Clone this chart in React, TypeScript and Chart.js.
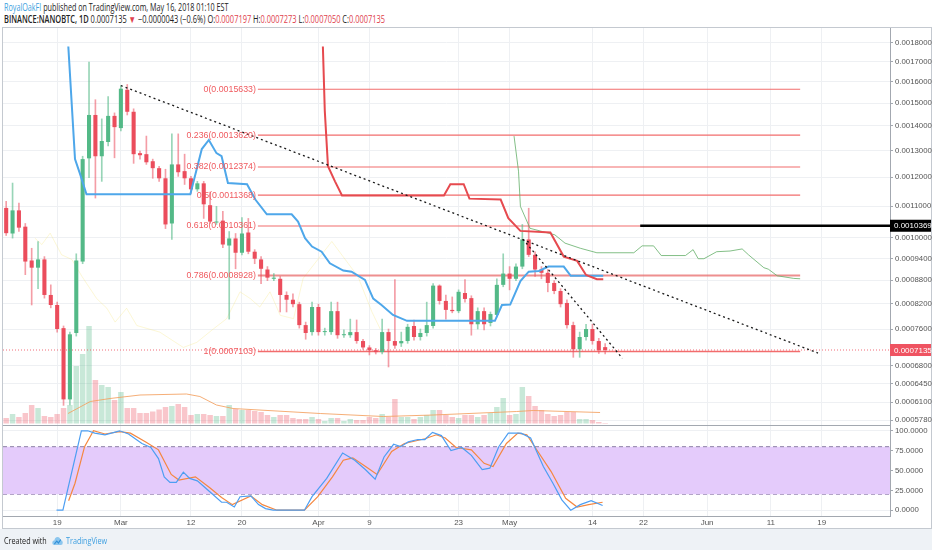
import { useEffect, useRef } from 'react'
import { Chart, registerables } from 'chart.js'

Chart.register(...registerables)
Chart.defaults.font.family = '"Liberation Sans", Arial, sans-serif'

// one candle per day, day 0 = 11 Feb 2018, last candle = 16 May 2018 (day 94)
const opens = [
  0.001094, 0.001013, 0.001086, 0.001034, 0.000934, 0.000914, 0.000937, 0.000842, 0.000817, 0.000762,
  0.000615, 0.000751, 0.000931, 0.001270, 0.001447, 0.001278, 0.001334, 0.001443, 0.001391, 0.001561,
  0.001461, 0.001290, 0.001286, 0.001259, 0.001233, 0.001196, 0.001044, 0.001247, 0.001222, 0.001196,
  0.001157, 0.001178, 0.001103, 0.001047, 0.001053, 0.000977, 0.000998, 0.000956, 0.001016, 0.000959,
  0.000937, 0.000909, 0.000884, 0.000884, 0.000842, 0.000830, 0.000819, 0.000769, 0.000753, 0.000812,
  0.000753, 0.000753, 0.000802, 0.000746, 0.000746, 0.000753, 0.000733, 0.000719, 0.000713, 0.000709,
  0.000753, 0.000733, 0.000728, 0.000733, 0.000767, 0.000742, 0.000751, 0.000767, 0.000866, 0.000827,
  0.000805, 0.000802, 0.000847, 0.000834, 0.000771, 0.000802, 0.000774, 0.000793, 0.000868, 0.000898,
  0.000884, 0.000917, 0.000995, 0.000950, 0.000909, 0.000900, 0.000873, 0.000852, 0.000822, 0.000769,
  0.000715, 0.000742, 0.000760, 0.000733, 0.0007197,
]
const highs = [
  0.001116, 0.001179, 0.001110, 0.001044, 0.000969, 0.000989, 0.000945, 0.000868, 0.000824, 0.000767,
  0.000753, 0.000953, 0.001278, 0.001696, 0.001515, 0.001430, 0.001529, 0.001456, 0.001581, 0.001586,
  0.001474, 0.001298, 0.001358, 0.001267, 0.001240, 0.001229, 0.001367, 0.001367, 0.001286, 0.001203,
  0.001185, 0.001185, 0.001147, 0.001099, 0.001083, 0.001019, 0.001013, 0.001063, 0.001060, 0.000965,
  0.000945, 0.000917, 0.000898, 0.000890, 0.000850, 0.000845, 0.000824, 0.000776, 0.000824, 0.000819,
  0.000762, 0.000824, 0.000824, 0.000758, 0.000783, 0.000781, 0.000737, 0.000723, 0.000717, 0.000783,
  0.000760, 0.000882, 0.000753, 0.000771, 0.000781, 0.000760, 0.000824, 0.000871, 0.000868, 0.000842,
  0.000837, 0.000855, 0.000882, 0.000840, 0.000810, 0.000810, 0.000800, 0.000884, 0.000953, 0.000917,
  0.000925, 0.001041, 0.001093, 0.000959, 0.000917, 0.000909, 0.000879, 0.000858, 0.000830, 0.000776,
  0.000753, 0.000771, 0.000771, 0.000739, 0.0007273,
]
const lows = [
  0.001007, 0.000999, 0.001019, 0.000895, 0.000817, 0.000858, 0.000834, 0.000810, 0.000753, 0.000604,
  0.000605, 0.000744, 0.000925, 0.001198, 0.001127, 0.001185, 0.001318, 0.001272, 0.001379, 0.001447,
  0.001251, 0.001267, 0.001247, 0.001196, 0.001185, 0.001028, 0.000995, 0.001203, 0.001174, 0.001143,
  0.001150, 0.001060, 0.001044, 0.001041, 0.000971, 0.000783, 0.000911, 0.000950, 0.000953, 0.000925,
  0.000871, 0.000879, 0.000879, 0.000800, 0.000800, 0.000812, 0.000762, 0.000737, 0.000746, 0.000746,
  0.000746, 0.000748, 0.000739, 0.000741, 0.000741, 0.000728, 0.000715, 0.000703, 0.000705, 0.000705,
  0.000678, 0.000717, 0.000721, 0.000728, 0.000735, 0.000735, 0.000744, 0.000762, 0.000819, 0.000783,
  0.000798, 0.000798, 0.000824, 0.000746, 0.000760, 0.000758, 0.000767, 0.000788, 0.000863, 0.000855,
  0.000879, 0.000911, 0.000945, 0.000890, 0.000884, 0.000850, 0.000845, 0.000812, 0.000762, 0.000698,
  0.000698, 0.000735, 0.000726, 0.000706, 0.0007050,
]
const closes = [
  0.001014, 0.001086, 0.001031, 0.000931, 0.000914, 0.000937, 0.000842, 0.000817, 0.000760, 0.000615,
  0.000748, 0.000934, 0.001267, 0.001447, 0.001278, 0.001338, 0.001443, 0.001395, 0.001566, 0.001461,
  0.001286, 0.001282, 0.001255, 0.001233, 0.001196, 0.001041, 0.001247, 0.001218, 0.001196, 0.001157,
  0.001178, 0.001106, 0.001050, 0.001050, 0.000980, 0.000998, 0.000956, 0.001013, 0.000959, 0.000939,
  0.000911, 0.000887, 0.000887, 0.000842, 0.000830, 0.000819, 0.000769, 0.000751, 0.000812, 0.000753,
  0.000755, 0.000802, 0.000746, 0.000748, 0.000753, 0.000733, 0.000719, 0.000713, 0.000709, 0.000753,
  0.000733, 0.000723, 0.000733, 0.000765, 0.000742, 0.000751, 0.000769, 0.000866, 0.000827, 0.000805,
  0.000802, 0.000850, 0.000832, 0.000771, 0.000802, 0.000771, 0.000795, 0.000868, 0.000898, 0.000884,
  0.000917, 0.000995, 0.000950, 0.000909, 0.000900, 0.000873, 0.000852, 0.000819, 0.000769, 0.000715,
  0.000742, 0.000760, 0.000733, 0.000713, 0.0007135,
]
const volumes = [
  5.5, 9.5, 6.5, 10.5, 18.5, 15.5, 7.5, 6.5, 9.5, 15.5,
  18.5, 57.5, 69.5, 97.5, 43.5, 38.5, 36.5, 23.5, 31.5, 15.5,
  15.5, 10.5, 10.5, 12, 14, 16.5, 17.5, 19.5, 16.5, 8.5,
  9.5, 9.5, 8.5, 7.5, 7.5, 18.5, 14.5, 13.5, 13.5, 12.5,
  11.5, 8.5, 6.5, 8.5, 8.5, 5.5, 4.5, 4.5, 6.5, 4.5,
  2.5, 5.5, 5.5, 2.5, 4.5, 3.5, 3.5, 6.5, 5.5, 9.5,
  6.5, 24.5, 6.5, 6.5, 4.5, 6.5, 8.5, 13.5, 13.5, 8.5,
  6.5, 5.5, 8.5, 8.5, 6.5, 8.5, 10.5, 16.5, 25.5, 8.5,
  9.5, 36.5, 27.5, 17.5, 13.5, 9.5, 7.5, 8.5, 11.5, 11.5,
  4.5, 4.5, 3.5, 1.5, 0.5,
]

// [day, value] points of the indicator lines
const blueLine = [
  [9.75, 0.001778], [10.8, 0.001267], [11.6, 0.001211], [12.6, 0.00114], [28.9, 0.00114], [30.7, 0.001306],
  [31.8, 0.001342], [33, 0.00129], [33.8, 0.001278], [34.8, 0.001179], [37.8, 0.001175], [39.1, 0.001122],
  [40.9, 0.001073], [44.8, 0.001073], [45.8, 0.00105], [46.9, 0.000999], [48, 0.000974], [49.5, 0.000959],
  [50.8, 0.000926], [52.9, 0.000906], [54.2, 0.000903], [56.3, 0.000881], [57.6, 0.000833], [58.9, 0.000817],
  [60.7, 0.000793], [62.9, 0.000779], [76.7, 0.000779], [77.8, 0.000817], [79.1, 0.000818], [80.7, 0.000878],
  [82, 0.000903], [83.6, 0.000905], [85.1, 0.000917], [87.5, 0.000917], [88.6, 0.000892], [93.7, 0.000892],
]
const redLine = [
  [49.7, 0.001778], [50, 0.001465], [50.5, 0.00124], [51.6, 0.001185], [52.7, 0.001136], [68.7, 0.001136],
  [69.7, 0.001175], [71.8, 0.001175], [72.7, 0.001125], [77.6, 0.001122], [78.8, 0.001061], [80.7, 0.001021],
  [85.4, 0.001016], [87.5, 0.000945], [89.6, 0.000933], [91, 0.000894], [92.7, 0.000883], [93.7, 0.000883],
]
const greenLine = [
  [79.7, 0.001358], [80.4, 0.001222], [80.7, 0.001099], [82.2, 0.001029], [86.1, 0.001009], [87.7, 0.000984],
  [90.1, 0.000969], [92.7, 0.000956], [98.5, 0.000956], [99.8, 0.000976], [101.6, 0.000976], [102.8, 0.000948],
  [106.6, 0.000948], [107.8, 0.000965], [108.6, 0.000939], [109.5, 0.000939], [111.5, 0.000959], [113.6, 0.000961],
  [115.5, 0.000967], [116.5, 0.00095], [118.9, 0.000914], [119.6, 0.00091], [121, 0.000892], [123.6, 0.000885],
  [124.6, 0.000884],
]
const yellowLine = [
  [4.5, 0.000999], [5.6, 0.00098], [6.9, 0.001014], [8.7, 0.00095], [10.3, 0.000937], [11.9, 0.00089],
  [14.2, 0.000833], [15.8, 0.000809], [17.1, 0.000776], [18.9, 0.000809], [20.5, 0.000768], [24.1, 0.000753],
  [27.8, 0.000719], [29.9, 0.00073], [32.5, 0.00076], [34.6, 0.000784], [36.7, 0.00085], [38.3, 0.000833],
  [39.8, 0.000812], [41.4, 0.00085], [43, 0.000792], [45.1, 0.000784], [46.6, 0.000885], [51.1, 0.000989],
  [55.2, 0.00089], [57.4, 0.0008], [58.7, 0.00076],
]
const volumeMa = [
  [9.7, 10], [13.2, 22], [16.3, 25], [21, 28.5], [28.3, 29.5], [30.4, 27], [33, 18.5], [35.6, 15],
  [49.3, 10], [59.2, 7], [67, 8.5], [80.1, 12], [82.7, 13], [93.2, 11],
]
const trendA = [[18, 0.001581], [127.4, 0.000707]]
const trendB = [[81.1, 0.000996], [96.7, 0.000696]]

const stochK = [
  [7.9, 0], [8.9, 0], [11.8, 100], [12.8, 100], [13.9, 97], [15.5, 95], [17.8, 100], [19.2, 96], [21.3, 84],
  [22.7, 79], [23.9, 65], [24.8, 42], [25.7, 35], [26.7, 35], [27.8, 48], [28.8, 40], [30, 37], [32, 23],
  [33.8, 10], [34.6, 10], [35.8, 4], [36.7, 17], [38.4, 18], [39.6, 7], [40.7, 2], [41.9, 0], [46.8, 0],
  [48, 17], [50.3, 40], [52.8, 72], [54.7, 63], [56.4, 51], [57.9, 39], [59.3, 67], [60.8, 83], [61.9, 80],
  [63.1, 86], [64.6, 89], [65.7, 89], [66.9, 98], [68.3, 94], [69.8, 75], [71.5, 79], [73, 69], [74.7, 51],
  [75.9, 53], [77.3, 80], [78.8, 97], [80.8, 97], [82.3, 91], [84.3, 55], [85.8, 34], [87.2, 13], [88.6, 0],
  [90.1, 7], [91.8, 12], [93.6, 6],
]
const stochD = [
  [9.8, 12], [10.8, 34], [12.3, 80], [13.7, 100], [15.5, 96], [17.8, 99], [19.5, 97], [21.9, 86], [23.9, 76],
  [25.9, 45], [27.1, 38], [29.7, 42], [32, 28], [33.8, 16], [35.5, 7], [38.4, 18], [40.2, 7], [42.5, 0],
  [46.8, 0], [48.9, 17], [51.2, 42], [52.9, 63], [54.4, 66], [56.4, 55], [58.2, 45], [60.5, 74], [62.5, 84],
  [65.7, 90], [67.5, 95], [68.9, 91], [70.6, 79], [73, 76], [75, 59], [76.4, 55], [78.5, 84], [80.3, 97],
  [81.7, 95], [83.1, 78], [85.5, 49], [87.8, 15], [89.6, 4], [91.4, 7], [93.6, 10],
]

const fibLevels = ['0', '0.236', '0.382', '0.5', '0.618', '0.786', '1']
const fibPrices = [0.0015633, 0.001362, 0.0012374, 0.0011368, 0.0010361, 0.0008928, 0.0007103]
const fibFrom = 39.5
const fibTo = 124.6
const resistance = 0.0010369
const resistanceFrom = 99.5
const lastPrice = 0.0007135

const xTickDays = [8, 18, 29, 37, 49, 57, 71, 79, 92, 100, 110, 120, 128]
const xTickLabels = ['19', 'Mar', '12', '20', 'Apr', '9', '23', 'May', '14', '22', 'Jun', '11', '19']
const priceTicks = [
  0.0018, 0.0017, 0.0016, 0.0015, 0.0014, 0.0013, 0.0012, 0.0011, 0.001, 0.00094, 0.00088, 0.00082,
  0.00076, 0.00068, 0.000645, 0.00061, 0.000578,
]
const rsiTicks = [0, 25, 50, 75, 100]

const X_MIN = -0.5
const X_MAX = 138.7
const GREEN = '#53b987'
const RED = '#eb4d5c'
const GRID = '#eef0f3'
const AXIS = '#a3a8b0'

const pts = (list: number[][]) => list.map(([x, y]) => ({ x, y }))
const flat = (y: number, from: number, to: number) => [{ x: from, y }, { x: to, y }]
const isUp = (i: number) => closes[i] >= opens[i]

const line = (data: any[], color: string, width: number, axis: string, order: number, extra: any = {}) => ({
  type: 'line',
  data,
  borderColor: color,
  borderWidth: width,
  pointRadius: 0,
  tension: 0,
  yAxisID: axis,
  order,
  ...extra,
})

const overlay = {
  id: 'overlay',
  afterDatasetsDraw(chart: any) {
    const { ctx, chartArea, scales } = chart
    const { x, y } = scales
    ctx.save()
    // pane separator
    ctx.strokeStyle = AXIS
    ctx.lineWidth = 1
    ctx.beginPath()
    ctx.moveTo(chartArea.left, Math.round(y.bottom) + 0.5)
    ctx.lineTo(chartArea.right, Math.round(y.bottom) + 0.5)
    ctx.stroke()
    // fib labels
    ctx.font = '8.8px "Liberation Sans", Arial, sans-serif'
    ctx.fillStyle = '#f05a5f'
    ctx.textAlign = 'right'
    ctx.textBaseline = 'middle'
    fibLevels.forEach((lv, i) => {
      ctx.fillText(`${lv}(${fibPrices[i].toFixed(7)})`, x.getPixelForValue(fibFrom) - 2, y.getPixelForValue(fibPrices[i]))
    })
    ctx.restore()
  },
  afterDraw(chart: any) {
    const { ctx, chartArea, scales } = chart
    const { y } = scales
    ctx.save()
    ctx.font = '8px "Liberation Sans", Arial, sans-serif'
    ctx.textAlign = 'left'
    ctx.textBaseline = 'middle'
    const boxes = [
      { v: resistance, bg: '#000000' },
      { v: lastPrice, bg: '#ef5361' },
    ]
    boxes.forEach(({ v, bg }) => {
      const py = y.getPixelForValue(v)
      ctx.fillStyle = bg
      ctx.fillRect(chartArea.right, py - 6, 41, 12)
      ctx.fillStyle = '#ffffff'
      ctx.fillText(v.toFixed(7), chartArea.right + 4, py + 0.5)
    })
    ctx.restore()
  },
}

export default function App() {
  const canvasRef = useRef<HTMLCanvasElement>(null)

  useEffect(() => {
    if (!canvasRef.current) return

    const fibSets = fibPrices.map((p, i) =>
      line(flat(p, fibFrom, fibTo), i === 5 ? 'rgba(232,105,105,0.75)' : '#f26d6d', i === 5 ? 2.2 : i === 6 ? 1.5 : 1.2, 'y', 6)
    )

    const chart = new Chart(canvasRef.current, {
      type: 'bar',
      data: {
        datasets: [
          line(pts(trendA), '#1a1a1a', 1.3, 'y', 1, { borderDash: [2, 3] }),
          line(pts(trendB), '#1a1a1a', 1.3, 'y', 1, { borderDash: [2, 3] }),
          line(flat(resistance, resistanceFrom, X_MAX), '#000000', 2.5, 'y', 1),
          line(flat(lastPrice, X_MIN, X_MAX), 'rgba(239,83,97,0.85)', 1, 'y', 1, { borderDash: [1, 2] }),
          line(pts(redLine), '#e64a4f', 2, 'y', 2),
          line(pts(blueLine), '#4ea7ea', 2, 'y', 2),
          line(pts(greenLine), 'rgba(100,175,105,0.8)', 1, 'y', 2),
          {
            type: 'bar',
            data: opens.map((o, i) => ({ x: i, y: [o, closes[i]] })),
            backgroundColor: opens.map((_, i) => (isUp(i) ? GREEN : RED)),
            barPercentage: 0.8,
            categoryPercentage: 0.8,
            minBarLength: 1,
            grouped: false,
            yAxisID: 'y',
            order: 3,
          },
          {
            type: 'bar',
            data: lows.map((l, i) => ({ x: i, y: [l, highs[i]] })),
            backgroundColor: lows.map((_, i) => (isUp(i) ? 'rgba(83,185,135,0.6)' : 'rgba(235,77,92,0.55)')),
            barThickness: 1,
            grouped: false,
            yAxisID: 'y',
            order: 4,
          },
          ...fibSets,
          line(pts(yellowLine), 'rgba(245,228,120,0.3)', 1, 'y', 7),
          line(pts(volumeMa), 'rgba(243,160,95,0.85)', 1, 'yV', 8),
          {
            type: 'bar',
            data: volumes.map((v, i) => ({ x: i, y: v })),
            backgroundColor: volumes.map((_, i) => (isUp(i) ? 'rgba(83,185,135,0.32)' : 'rgba(235,77,92,0.32)')),
            barPercentage: 1,
            categoryPercentage: 0.86,
            grouped: false,
            yAxisID: 'yV',
            order: 9,
          },
          line(pts(stochK), '#4d9ef2', 1.2, 'yR', 2),
          line(pts(stochD), '#f5873f', 1.2, 'yR', 3),
          line(flat(80, X_MIN, X_MAX), '#8d80a6', 1, 'yR', 10, {
            borderDash: [4, 3],
            fill: '+1',
            backgroundColor: '#e4cbfb',
          }),
          line(flat(20, X_MIN, X_MAX), '#8d80a6', 1, 'yR', 10, { borderDash: [4, 3] }),
        ] as any,
      },
      options: {
        responsive: false,
        animation: false,
        events: [],
        layout: { padding: { top: 28, left: 3, right: 0, bottom: 20 } },
        plugins: {
          legend: { display: false },
          tooltip: { enabled: false },
        },
        scales: {
          x: {
            type: 'linear',
            position: 'bottom',
            offset: false,
            min: X_MIN,
            max: X_MAX,
            afterBuildTicks: (s: any) => {
              s.ticks = xTickDays.map((v) => ({ value: v }))
            },
            afterFit: (s: any) => {
              s.height = 14
            },
            ticks: {
              autoSkip: false,
              maxRotation: 0,
              padding: 2,
              color: '#555',
              font: { size: 8 },
              callback: (v: any) => xTickLabels[xTickDays.indexOf(Number(v))] ?? '',
            },
            grid: { color: GRID, drawTicks: false, offset: false },
            border: { color: AXIS },
          },
          y: {
            type: 'logarithmic',
            position: 'right',
            stack: 'panes',
            stackWeight: 397,
            min: 0.0005694,
            max: 0.0018797,
            afterBuildTicks: (s: any) => {
              s.ticks = priceTicks.map((v) => ({ value: v }))
            },
            afterFit: (s: any) => {
              s.width = 42
            },
            ticks: {
              autoSkip: false,
              padding: 2,
              color: '#555',
              font: { size: 7.8 },
              callback: (v: any) => Number(v).toFixed(7),
            },
            grid: { color: GRID, tickLength: 3, tickColor: AXIS },
            border: { color: AXIS },
          },
          yR: {
            type: 'linear',
            position: 'right',
            stack: 'panes',
            stackWeight: 91,
            min: -7.3,
            max: 107.3,
            afterBuildTicks: (s: any) => {
              s.ticks = rsiTicks.map((v) => ({ value: v }))
            },
            afterFit: (s: any) => {
              s.width = 42
            },
            ticks: {
              autoSkip: false,
              padding: 2,
              color: '#555',
              font: { size: 7.8 },
              callback: (v: any) => Number(v).toFixed(4),
            },
            grid: { color: GRID, tickLength: 3, tickColor: AXIS },
            border: { color: AXIS },
          },
          yV: {
            type: 'linear',
            position: 'left',
            display: false,
            min: -92.5,
            max: 395.5,
          },
        },
      } as any,
      plugins: [overlay],
    })

    return () => chart.destroy()
  }, [])

  const head = {
    position: 'absolute' as const,
    left: 4,
    whiteSpace: 'nowrap' as const,
    fontFamily: '"Open Sans", sans-serif',
    fontSize: 10,
    color: '#222',
    transform: 'scaleX(0.72)',
    transformOrigin: 'left top',
    lineHeight: '12px',
  }
  const red = { color: '#e0424e' }

  return (
    <div style={{ position: 'fixed', left: 0, top: 0, width: 932, height: 550, background: '#ffffff', overflow: 'hidden' }}>
      <div style={{ ...head, top: 1 }}>
        <span style={{ color: '#3d9fe0' }}>RoyalOakFI</span> published on TradingView.com, May 16, 2018 01:10 EST
      </div>
      <div style={{ ...head, top: 13, transform: 'scaleX(0.745)' }}>
        <span style={{ fontWeight: 600 }}>BINANCE:NANOBTC, 1D</span> 0.0007135 <span style={red}>▼</span> −0.0000043 (−0.6%){' '}
        O:<span style={red}>0.0007197</span> H:<span style={red}>0.0007273</span> L:<span style={red}>0.0007050</span> C:
        <span style={red}>0.0007135</span>
      </div>
      <div style={{ position: 'absolute', left: 0, top: 529, width: 932, height: 21, background: '#eef2f6' }} />
      <div
        style={{
          position: 'absolute',
          left: 2,
          top: 27,
          width: 928,
          height: 500,
          border: '1px solid #c4c9d0',
        }}
      />
      <canvas ref={canvasRef} width={932} height={550} style={{ position: 'absolute', left: 0, top: 0 }} />
      <div style={{ position: 'absolute', left: 4, top: 534, fontFamily: '"Open Sans", sans-serif', fontSize: 9, color: '#222', display: 'flex', alignItems: 'center', transform: 'scaleX(0.8)', transformOrigin: 'left top', whiteSpace: 'nowrap' }}>
        <span>Created with</span>
        <svg width="14" height="10" viewBox="0 0 14 10" style={{ margin: '0 3px 0 7px' }}>
          <path d="M3 9 Q0 9 0.5 6 Q1 4 3 4.5 Q3.5 1 7 1 Q10 1 10.5 4 Q13.5 4 13.5 6.5 Q13.5 9 11 9 Z" fill="#8cc6ee" />
          <path d="M3 8 L6 5 L8 7 L11 3.5" stroke="#2f8fd8" strokeWidth="1.2" fill="none" />
        </svg>
        <span style={{ color: '#3d9fe0' }}>TradingView</span>
      </div>
    </div>
  )
}
